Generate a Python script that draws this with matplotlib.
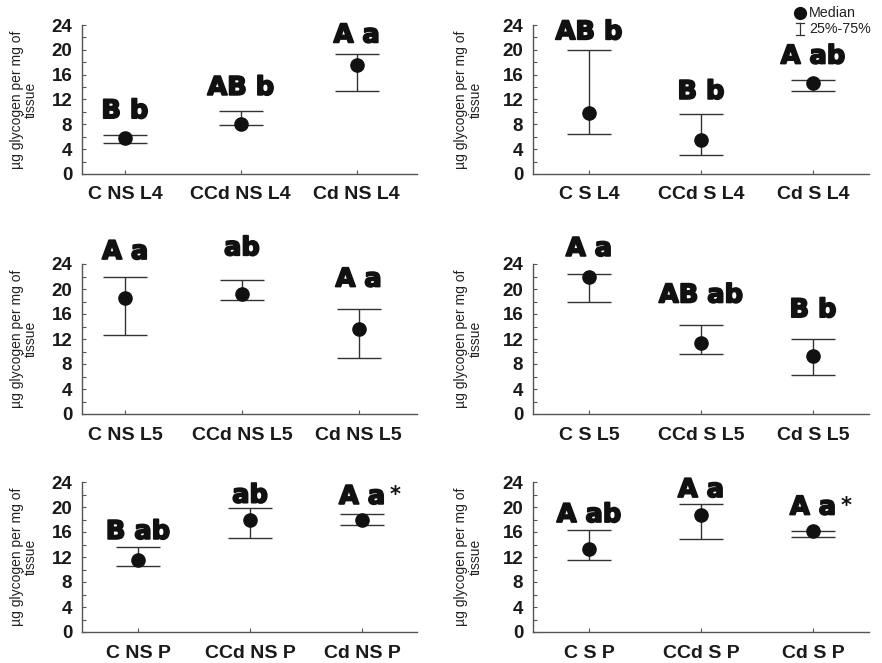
import matplotlib
matplotlib.use("Agg")
import matplotlib.pyplot as plt
import matplotlib.patheffects as pe
from matplotlib.lines import Line2D
import numpy as np

plt.rcParams['font.family'] = ['Liberation Sans', 'DejaVu Sans']

# ---------------- data ----------------
categories = [
    ["C NS L4", "CCd NS L4", "Cd NS L4"],
    ["C S L4", "CCd S L4", "Cd S L4"],
    ["C NS L5", "CCd NS L5", "Cd NS L5"],
    ["C S L5", "CCd S L5", "Cd S L5"],
    ["C NS P", "CCd NS P", "Cd NS P"],
    ["C S P", "CCd S P", "Cd S P"],
]
medians = [
    [5.8, 8.1, 17.5],
    [9.8, 5.5, 14.7],
    [18.5, 19.2, 13.6],
    [22.0, 11.3, 9.3],
    [11.5, 17.9, 18.0],
    [13.3, 18.7, 16.1],
]
q25 = [
    [5.0, 7.9, 13.4],
    [6.4, 3.0, 13.3],
    [12.7, 18.3, 9.0],
    [18.0, 9.6, 6.2],
    [10.6, 15.1, 17.2],
    [11.5, 14.9, 15.2],
]
q75 = [
    [6.3, 10.1, 19.4],
    [20.0, 9.7, 15.1],
    [21.9, 21.5, 16.8],
    [22.4, 14.3, 12.0],
    [13.6, 19.8, 18.9],
    [16.3, 20.5, 16.2],
]
letters = [
    ["B b", "AB b", "A a"],
    ["AB b", "B b", "A ab"],
    ["A a", "ab", "A a"],
    ["A a", "AB ab", "B b"],
    ["B ab", "ab", "A a"],
    ["A ab", "A a", "A a"],
]
letter_y = [
    [9.0, 12.75, 21.2],
    [21.7, 12.1, 17.8],
    [24.8, 25.4, 20.4],
    [25.3, 17.85, 15.5],
    [14.9, 20.7, 20.5],
    [17.6, 21.6, 18.8],
]
asterisk = [
    [False, False, False],
    [False, False, False],
    [False, False, False],
    [False, False, False],
    [False, False, True],
    [False, False, True],
]
yticks = [0, 4, 8, 12, 16, 20, 24]
ylabel = "µg glycogen per mg of\ntissue"

# ---------------- layout ----------------
W, H = 882, 663
fig = plt.figure(figsize=(W / 100, H / 100), dpi=100)

col_left = [82, 533]
col_width = [335, 336]
row_top = [25, 264, 482]
row_h = [149, 150, 150]
xlims = [(-0.37, 2.52), (-0.5, 2.5), (-0.37, 2.50), (-0.5, 2.5), (-0.5, 2.49), (-0.5, 2.5)]
ylab_x = [-0.131, -0.149]

line_col = '#333333'
spine_col = '#555555'

for i in range(6):
    r, c = divmod(i, 2)
    left = col_left[c] / W
    bottom = 1 - (row_top[r] + row_h[r]) / H
    ax = fig.add_axes([left, bottom, col_width[c] / W, row_h[r] / H])
    x = np.arange(3)
    med = np.array(medians[i])
    lo = np.array(q25[i])
    hi = np.array(q75[i])
    ax.errorbar(x, med, yerr=[med - lo, hi - med], fmt='none', ecolor=line_col,
                elinewidth=1.0, capsize=16, capthick=1.0, zorder=2)
    ax.plot(x, med, 'o', color='#111111', markersize=9.5, zorder=3)
    for j in range(3):
        t = ax.text(x[j], letter_y[i][j], letters[i][j], ha='center', va='baseline',
                    fontsize=18.5, fontweight='bold', family='DejaVu Sans',
                    color='#111111', clip_on=False)
        t.set_path_effects([pe.withStroke(linewidth=1.3, foreground='#111111')])
        if asterisk[i][j]:
            ax.annotate('*', xy=(x[j], letter_y[i][j]), xytext=(24, 13.5),
                        textcoords='offset points', ha='center', va='top',
                        fontsize=15, fontweight='bold', family='DejaVu Sans',
                        color='#111111', annotation_clip=False)
    ax.set_xlim(*xlims[i])
    ax.set_ylim(0, 24)
    ax.set_yticks(yticks)
    ax.set_yticks(np.arange(2, 24, 4), minor=True)
    ax.set_xticks(x)
    ax.set_xticklabels(categories[i], fontsize=14, fontweight='bold', color='#1a1a1a')
    ax.set_yticklabels([str(v) for v in yticks], fontsize=13.5, fontweight='bold', color='#1a1a1a')
    ax.tick_params(axis='both', which='both', direction='in', color=spine_col, width=0.8)
    ax.tick_params(axis='y', which='major', length=3, pad=7)
    ax.tick_params(axis='y', which='minor', length=3)
    ax.tick_params(axis='x', which='major', length=3, pad=9)
    for s in ['top', 'right']:
        ax.spines[s].set_visible(False)
    for s in ['left', 'bottom']:
        ax.spines[s].set_color(spine_col)
        ax.spines[s].set_linewidth(1.0)
    ax.set_ylabel(ylabel, fontsize=10, color='#222222', linespacing=1.05)
    ax.yaxis.set_label_coords(ylab_x[c], 0.5)
    ax.patch.set_visible(False)

# ---------------- legend (top right) ----------------
fig.add_artist(Line2D([800 / W], [1 - 13 / H], marker='o', color='#111111',
                      markersize=8.5, linestyle='none'))
fig.text(809 / W, 1 - 13 / H, "Median", fontsize=10.3, va='center', ha='left', color='#222222')
xs = 800 / W
fig.add_artist(Line2D([xs, xs], [1 - 23 / H, 1 - 35 / H], color=line_col, lw=0.9))
fig.add_artist(Line2D([xs - 4 / W, xs + 4 / W], [1 - 23 / H, 1 - 23 / H], color=line_col, lw=0.9))
fig.add_artist(Line2D([xs - 4 / W, xs + 4 / W], [1 - 35 / H, 1 - 35 / H], color=line_col, lw=0.9))
fig.text(809 / W, 1 - 29 / H, "25%-75%", fontsize=10.3, va='center', ha='left', color='#222222')

fig.savefig("out.png", dpi=100)
